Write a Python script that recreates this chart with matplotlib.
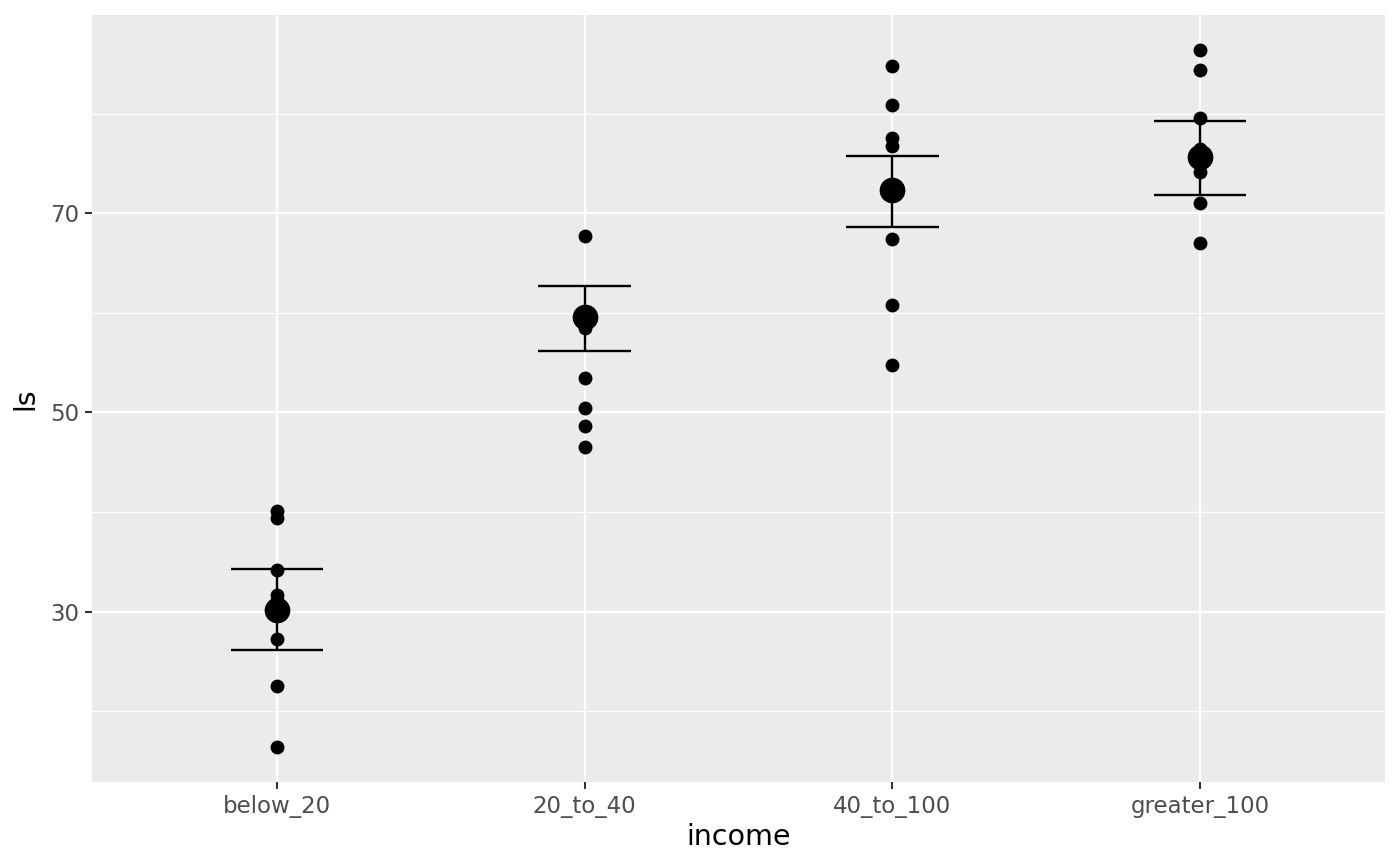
import numpy as np
import matplotlib
matplotlib.use("Agg")
import matplotlib.pyplot as plt

# income groups and the life satisfaction values
categories = ["below_20", "20_to_40", "40_to_100", "greater_100"]
ls_below_20 = [40.06, 39.39, 34.21, 31.7, 31.2, 27.3, 22.5, 16.4]
ls_20_to_40 = [67.69, 58.44, 53.43, 50.42, 48.68, 46.57]
ls_40_to_100 = [84.74, 80.9, 77.59, 76.72, 67.42, 60.78, 54.79]
ls_greater_100 = [86.41, 84.41, 79.59, 76.5, 75.9, 74.1, 71.07, 67.06]
groups = [ls_below_20, ls_20_to_40, ls_40_to_100, ls_greater_100]

# summary: mean with lower / upper error bar ends
means = [30.2, 59.54, 72.31, 75.65]
lower = [26.16, 56.17, 68.63, 71.84]
upper = [34.28, 62.68, 75.78, 79.22]

fig = plt.figure(figsize=(14, 8.66), dpi=100)
ax = fig.add_axes([92 / 1400, 1 - 782 / 866, (1385 - 92) / 1400, (782 - 15) / 866])
ax.set_facecolor("#EBEBEB")

x = np.arange(len(categories))
for i, vals in enumerate(groups):
    ax.plot([x[i]] * len(vals), vals, "o", color="black", markersize=10,
            markeredgewidth=0, zorder=3)

ax.vlines(x, lower, upper, color="black", linewidth=1.7, zorder=4)
ax.hlines(lower, x - 0.15, x + 0.15, color="black", linewidth=1.7, zorder=4)
ax.hlines(upper, x - 0.15, x + 0.15, color="black", linewidth=1.7, zorder=4)
ax.plot(x, means, "o", color="black", markersize=18.5, markeredgewidth=0, zorder=5)

# ggplot-like limits (5% expansion on y, 0.6 units on discrete x)
all_vals = np.concatenate([np.array(g) for g in groups])
lo, hi = all_vals.min(), all_vals.max()
pad = (hi - lo) * 0.05
ax.set_ylim(lo - pad, hi + pad)
ax.set_xlim(-0.6, len(categories) - 1 + 0.6)

ax.set_yticks([30, 50, 70])
ax.set_yticks([20, 40, 60, 80], minor=True)
ax.set_xticks(x)
ax.set_xticklabels(categories)

ax.grid(True, which="major", color="white", linewidth=1.6, zorder=0)
ax.grid(True, which="minor", axis="y", color="white", linewidth=0.8, zorder=0)
ax.set_axisbelow(True)
for s in ax.spines.values():
    s.set_visible(False)

ax.tick_params(axis="both", which="major", length=5, width=1.5, color="#333333",
               labelcolor="#4D4D4D", labelsize=16.5, pad=4)
ax.tick_params(axis="y", which="minor", length=0)

ax.set_xlabel("income", fontsize=20.5, labelpad=4)
ax.set_ylabel("ls", fontsize=20.5, labelpad=8)

fig.savefig("out.png", dpi=100)
